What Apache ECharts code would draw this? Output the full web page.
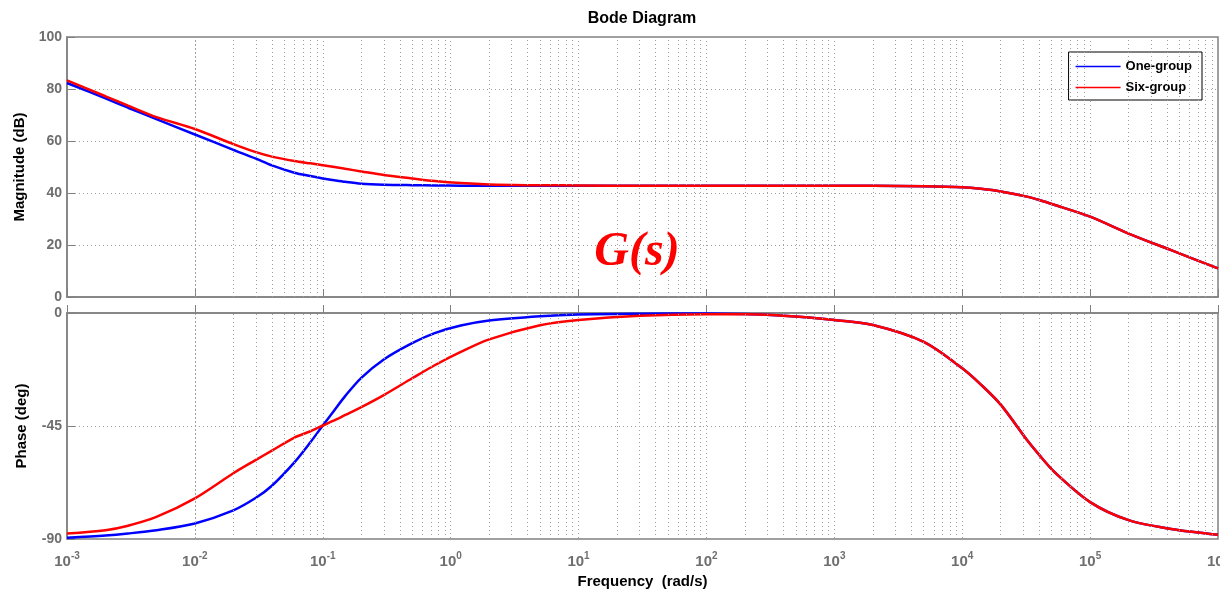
<!DOCTYPE html>
<html>
<head>
<meta charset="utf-8">
<script src="https://cdn.jsdelivr.net/npm/echarts@6/dist/echarts.min.js"></script>
<style>
  html, body { margin: 0; padding: 0; background: #fff; }
  #bode { width: 1220px; height: 593px; }
</style>
</head>
<body>
<div id="bode"></div>
<script>
// frequency points (rad/s)
const freq = [0.001, 0.002, 0.003, 0.005, 0.01, 0.02, 0.03, 0.04, 0.06, 0.08, 0.1, 0.12, 0.15, 0.2, 0.3, 0.5, 0.75, 1.2, 2, 5, 10, 30, 100, 200, 350, 630, 1000, 2000, 5000, 1e4, 1.4e4, 2e4, 3.2e4, 4e4, 5.3e4, 1e5, 2e5, 4.3e5, 1e6];

// magnitude (dB)
const oneGroupMag = [82.3, 76.4, 72.8, 68.4, 62.5, 56.6, 53.2, 50.6, 47.8, 46.5, 45.6, 45.0, 44.3, 43.6, 43.2, 43.0, 42.9, 42.8, 42.8, 42.8, 42.8, 42.8, 42.8, 42.8, 42.8, 42.8, 42.8, 42.8, 42.6, 42.2, 41.6, 40.6, 38.6, 37.3, 35.4, 30.9, 24.4, 18.0, 11.0];
const sixGroupMag = [83.3, 77.2, 73.6, 69.2, 64.6, 58.8, 55.7, 54.0, 52.3, 51.4, 50.7, 50.1, 49.3, 48.3, 46.9, 45.6, 44.6, 43.8, 43.3, 43.0, 42.9, 42.8, 42.8, 42.8, 42.8, 42.8, 42.8, 42.8, 42.6, 42.2, 41.6, 40.6, 38.6, 37.3, 35.4, 30.9, 24.4, 18.0, 11.0];

// phase (deg)
const oneGroupPhase = [-89.5, -88.6, -87.8, -86.5, -83.8, -78.6, -73.6, -68.8, -59.5, -51.5, -44.8, -39.5, -33.0, -25.8, -18.5, -12.0, -8.0, -5.0, -3.0, -1.3, -0.6, -0.3, -0.2, -0.4, -0.9, -1.8, -2.8, -4.8, -11.5, -22.0, -28.5, -36.5, -50.5, -56.5, -63.5, -75.3, -82.5, -86.0, -88.3];
const sixGroupPhase = [-87.8, -86.5, -84.7, -81.2, -73.8, -63.8, -58.5, -54.8, -49.6, -47.1, -44.8, -43.0, -40.6, -37.5, -32.7, -26.0, -20.8, -15.5, -10.5, -4.9, -2.8, -1.1, -0.5, -0.5, -0.9, -1.8, -2.8, -4.8, -11.5, -22.0, -28.5, -36.5, -50.5, -56.5, -63.5, -75.3, -82.5, -86.0, -88.3];

const magTicks = [0, 20, 40, 60, 80, 100];
const phaseTicks = [-90, -45, 0];
const decades = [-3, -2, -1, 0, 1, 2, 3, 4, 5];

// 2..9 minor grid positions inside each decade
const minorGrid = [];
decades.forEach(d => {
    for (let k = 2; k <= 9; k++) minorGrid.push(k * Math.pow(10, d));
});

const font = 'Liberation Sans, Arial, sans-serif';
const tickColor = '#6e6e6e';
const dotted = { color: '#a0a0a0', type: [1, 3], width: 1 };

const pairs = (ys) => freq.map((f, i) => [f, ys[i]]);

const minorLines = {
    silent: true,
    symbol: ['none', 'none'],
    label: { show: false },
    lineStyle: dotted,
    animation: false,
    data: minorGrid.map(v => ({ xAxis: v }))
};

function xAxisFor(gridIndex, showLabels) {
    return {
        type: 'log',
        logBase: 10,
        gridIndex: gridIndex,
        min: 0.001,
        max: 1e6,
        splitNumber: 10,
        axisLine: { lineStyle: { color: '#808080', width: 1.5 } },
        axisTick: { inside: true, length: 8, lineStyle: { color: '#808080' } },
        splitLine: { show: true, lineStyle: dotted },
        name: showLabels ? 'Frequency  (rad/s)' : '',
        nameLocation: 'middle',
        nameGap: 35,
        nameTextStyle: { fontFamily: font, fontWeight: 'bold', fontSize: 15, color: '#000' },
        axisLabel: {
            show: showLabels,
            margin: 12,
            formatter: v => '{b|10}{s|' + Math.round(Math.log10(v)) + '}',
            rich: {
                b: { fontFamily: font, fontWeight: 'bold', fontSize: 15, color: tickColor },
                s: { fontFamily: font, fontWeight: 'bold', fontSize: 10, color: tickColor, padding: [0, 0, 12, 0] }
            }
        }
    };
}

function yAxisFor(gridIndex, name, min, max, interval) {
    return {
        type: 'value',
        gridIndex: gridIndex,
        min: min,
        max: max,
        interval: interval,
        name: name,
        nameLocation: 'middle',
        nameGap: 38,
        nameTextStyle: { fontFamily: font, fontWeight: 'bold', fontSize: 15, color: '#000' },
        axisLine: { show: true, lineStyle: { color: '#808080', width: 1.5 } },
        axisTick: { show: true, inside: true, length: 8, lineStyle: { color: '#808080' } },
        axisLabel: { fontFamily: font, fontWeight: 'bold', fontSize: 14, color: tickColor, margin: 5 },
        splitLine: { show: true, lineStyle: dotted }
    };
}

function curve(name, ys, gi, color) {
    return {
        name: name, type: 'line', xAxisIndex: gi, yAxisIndex: gi,
        data: pairs(ys), smooth: 0.3, symbol: 'none',
        lineStyle: { color: color, width: 2.5 }, itemStyle: { color: color }
    };
}

var myChart = echarts.init(document.getElementById('bode'), null, { renderer: 'canvas' });

const blueMag = curve('One-group', oneGroupMag, 0, '#0000ff');
blueMag.markLine = minorLines;
const bluePhase = curve('One-group', oneGroupPhase, 1, '#0000ff');
bluePhase.markLine = minorLines;

var option = {
    animation: false,
    backgroundColor: '#fff',
    graphic: [
        {
            type: 'text',
            x: 642, y: 19,
            style: { text: 'Bode Diagram', textAlign: 'center', textVerticalAlign: 'middle',
                     font: 'bold 16px ' + font, fill: '#000' }
        },
        {
            type: 'text',
            x: 637, y: 253,
            z: 100,
            style: { text: 'G(s)', textAlign: 'center', textVerticalAlign: 'middle',
                     font: 'italic bold 48px Liberation Serif, Times New Roman, serif', fill: '#ff0000' }
        }
    ],
    legend: {
        orient: 'vertical',
        right: 18,
        top: 52,
        padding: [8, 10, 6, 7],
        itemGap: 8,
        itemWidth: 45,
        itemHeight: 1.5,
        icon: 'rect',
        backgroundColor: '#fff',
        borderColor: '#000',
        borderWidth: 1,
        borderRadius: 0,
        textStyle: { fontFamily: font, fontWeight: 'bold', fontSize: 13, color: '#000' },
        data: ['One-group', 'Six-group']
    },
    grid: [
        { left: 67, top: 37, right: 2, height: 260, outerBoundsMode: 'none', containLabel: false,
          show: true, borderColor: '#808080', borderWidth: 1.5, backgroundColor: '#fff' },
        { left: 67, top: 313, right: 2, height: 226, outerBoundsMode: 'none', containLabel: false,
          show: true, borderColor: '#808080', borderWidth: 1.5, backgroundColor: '#fff' }
    ],
    xAxis: [xAxisFor(0, false), xAxisFor(1, true)],
    yAxis: [
        yAxisFor(0, 'Magnitude (dB)', magTicks[0], magTicks[magTicks.length - 1], 20),
        yAxisFor(1, 'Phase (deg)', phaseTicks[0], phaseTicks[phaseTicks.length - 1], 45)
    ],
    series: [
        blueMag,
        curve('Six-group', sixGroupMag, 0, '#ff0000'),
        bluePhase,
        curve('Six-group', sixGroupPhase, 1, '#ff0000')
    ]
};
myChart.setOption(option);
</script>
</body>
</html>
